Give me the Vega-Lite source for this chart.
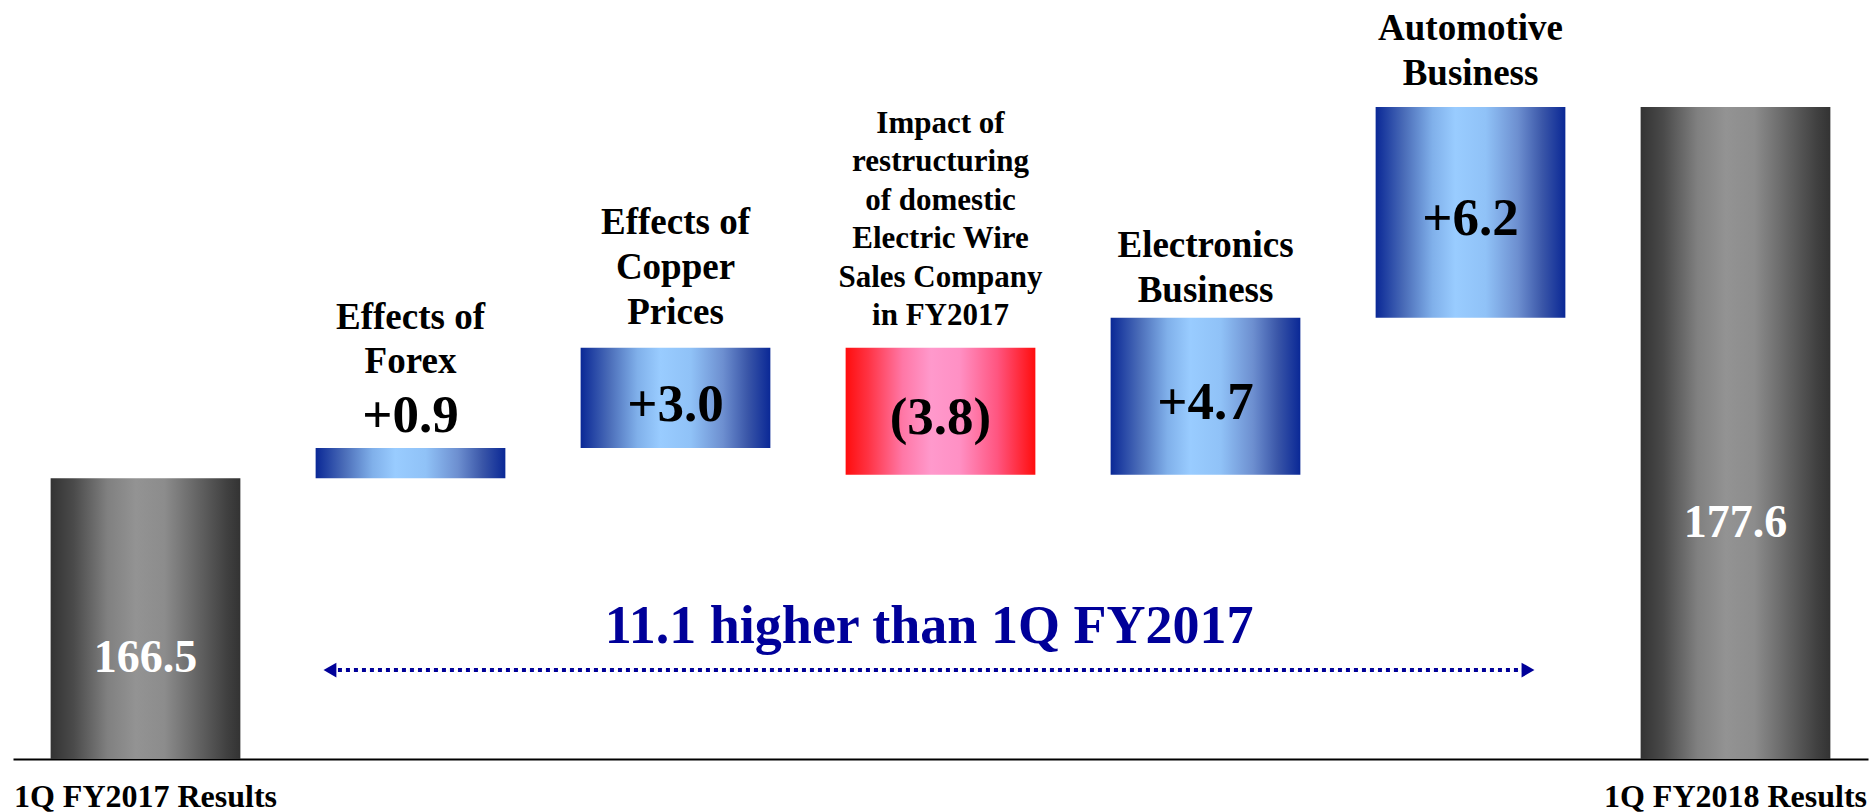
{
  "$schema": "https://vega.github.io/schema/vega-lite/v6.json",
  "width": 1855,
  "height": 759,
  "autosize": {"type": "none"},
  "padding": {"left": 13, "top": 0, "right": 5, "bottom": 53},
  "background": "white",
  "config": {
    "view": {"stroke": null},
    "text": {"font": "Liberation Serif", "fontWeight": "bold", "color": "#000000"}
  },
  "datasets": {
    "steps": [
      {"cat": "1Q FY2017 Results", "kind": "result", "start": 158.1, "end": 166.5, "label": "166.5", "name": ""},
      {"cat": "Effects of Forex", "kind": "up", "start": 166.5, "end": 167.4, "label": "+0.9", "name": ["Effects of", "Forex"]},
      {"cat": "Effects of Copper Prices", "kind": "up", "start": 167.4, "end": 170.4, "label": "+3.0", "name": ["Effects of", "Copper", "Prices"]},
      {"cat": "Impact of restructuring of domestic Electric Wire Sales Company in FY2017", "kind": "down", "start": 170.4, "end": 166.6, "label": "(3.8)", "name": ["Impact of", "restructuring", "of domestic", "Electric Wire", "Sales Company", "in FY2017"]},
      {"cat": "Electronics Business", "kind": "up", "start": 166.6, "end": 171.3, "label": "+4.7", "name": ["Electronics", "Business"]},
      {"cat": "Automotive Business", "kind": "up", "start": 171.3, "end": 177.6, "label": "+6.2", "name": ["Automotive", "Business"]},
      {"cat": "1Q FY2018 Results", "kind": "result", "start": 158.1, "end": 177.6, "label": "177.6", "name": ""}
    ],
    "note": [
      {"from": 0.696, "to": 5.217, "at": 160.76, "text": "11.1 higher than 1Q FY2017", "textX": 2.957, "textY": 161.57}
    ],
    "heads": [
      {"pos": 0.696, "at": 160.76, "dir": "left"},
      {"pos": 5.217, "at": 160.76, "dir": "right"}
    ]
  },
  "resolve": {"scale": {"x": "independent"}, "axis": {"x": "independent"}},
  "layer": [
    {
      "data": {"name": "steps"},
      "encoding": {
        "x": {
          "field": "cat",
          "type": "nominal",
          "sort": null,
          "scale": {
            "domain": ["1Q FY2017 Results", "Effects of Forex", "Effects of Copper Prices", "Impact of restructuring of domestic Electric Wire Sales Company in FY2017", "Electronics Business", "Automotive Business", "1Q FY2018 Results"],
            "paddingInner": 0.284,
            "paddingOuter": 0.142
          },
          "axis": {
            "title": null,
            "ticks": false,
            "tickSize": 0,
            "grid": false,
            "domain": true,
            "domainColor": "#000000",
            "domainWidth": 2,
            "labelExpr": "indexof(datum.label, 'Results') >= 0 ? datum.label : ''",
            "labelFont": "Liberation Serif",
            "labelFontWeight": "bold",
            "labelFontSize": 32,
            "labelColor": "#000000",
            "labelPadding": 22,
            "labelAngle": 0,
            "labelLimit": 500,
            "labelOverlap": false
          }
        }
      },
      "layer": [
        {
          "mark": {"type": "bar"},
          "encoding": {
            "y": {"field": "end", "type": "quantitative", "scale": {"domain": [158.1, 180.8], "nice": false, "zero": false}, "axis": null},
            "y2": {"field": "start"},
            "fill": {
              "condition": [
                {"test": "datum.kind === 'result'", "value": {"gradient": "linear", "x1": 0, "x2": 1, "y1": 0, "y2": 0, "stops": [
                  {"offset": 0, "color": "#333333"}, {"offset": 0.12, "color": "#4a4a4a"}, {"offset": 0.3, "color": "#808080"},
                  {"offset": 0.45, "color": "#939393"}, {"offset": 0.6, "color": "#8c8c8c"}, {"offset": 0.8, "color": "#5e5e5e"},
                  {"offset": 0.93, "color": "#404040"}, {"offset": 1, "color": "#333333"}]}},
                {"test": "datum.kind === 'down'", "value": {"gradient": "linear", "x1": 0, "x2": 1, "y1": 0, "y2": 0, "stops": [
                  {"offset": 0, "color": "#ff0d0d"}, {"offset": 0.12, "color": "#ff3344"}, {"offset": 0.3, "color": "#ff77a6"},
                  {"offset": 0.45, "color": "#ff99cc"}, {"offset": 0.6, "color": "#ff90c4"}, {"offset": 0.8, "color": "#ff5580"},
                  {"offset": 1, "color": "#ff0d0d"}]}}
              ],
              "value": {"gradient": "linear", "x1": 0, "x2": 1, "y1": 0, "y2": 0, "stops": [
                {"offset": 0, "color": "#0a2896"}, {"offset": 0.15, "color": "#4a6cb8"}, {"offset": 0.3, "color": "#80b0ea"},
                {"offset": 0.42, "color": "#99ccff"}, {"offset": 0.58, "color": "#90c2f7"}, {"offset": 0.75, "color": "#6d8fd0"},
                {"offset": 0.88, "color": "#3a56a8"}, {"offset": 1, "color": "#0a2896"}]}
            }
          }
        },
        {
          "transform": [
            {"filter": "datum.kind !== 'result' && datum.cat !== 'Effects of Forex'"},
            {"fold": ["start", "end"], "as": ["edge", "v"]}
          ],
          "mark": {"type": "text", "fontSize": 53, "baseline": "middle", "dy": 7},
          "encoding": {
            "y": {"aggregate": "mean", "field": "v", "type": "quantitative", "scale": {"domain": [158.1, 180.8], "nice": false, "zero": false}, "axis": null},
            "text": {"field": "label", "type": "nominal"}
          }
        },
        {
          "transform": [{"filter": "datum.cat === 'Effects of Forex'"}],
          "mark": {"type": "text", "fontSize": 53, "baseline": "alphabetic", "dy": -16},
          "encoding": {
            "y": {"field": "end", "type": "quantitative", "scale": {"domain": [158.1, 180.8], "nice": false, "zero": false}, "axis": null},
            "text": {"field": "label", "type": "nominal"}
          }
        },
        {
          "transform": [
            {"filter": "datum.kind === 'result'"},
            {"fold": ["start", "end"], "as": ["edge", "v"]},
            {"quantile": "v", "probs": [0.365], "groupby": ["cat", "label"], "as": ["prob", "q"]}
          ],
          "mark": {"type": "text", "fontSize": 46, "baseline": "middle", "dy": 2, "color": "#ffffff"},
          "encoding": {
            "y": {"field": "q", "type": "quantitative", "scale": {"domain": [158.1, 180.8], "nice": false, "zero": false}, "axis": null},
            "text": {"field": "label", "type": "nominal"}
          }
        },
        {
          "transform": [{"filter": "datum.cat === 'Effects of Copper Prices'"}],
          "mark": {"type": "text", "fontSize": 37, "lineHeight": 45, "baseline": "alphabetic", "dy": -114},
          "encoding": {
            "y": {"field": "end", "type": "quantitative", "scale": {"domain": [158.1, 180.8], "nice": false, "zero": false}, "axis": null},
            "text": {"field": "name", "type": "nominal"}
          }
        },
        {
          "transform": [{"filter": "datum.cat === 'Electronics Business'"}],
          "mark": {"type": "text", "fontSize": 37, "lineHeight": 45, "baseline": "alphabetic", "dy": -61},
          "encoding": {
            "y": {"field": "end", "type": "quantitative", "scale": {"domain": [158.1, 180.8], "nice": false, "zero": false}, "axis": null},
            "text": {"field": "name", "type": "nominal"}
          }
        },
        {
          "transform": [{"filter": "datum.cat === 'Automotive Business'"}],
          "mark": {"type": "text", "fontSize": 37, "lineHeight": 45, "baseline": "alphabetic", "dy": -67},
          "encoding": {
            "y": {"field": "end", "type": "quantitative", "scale": {"domain": [158.1, 180.8], "nice": false, "zero": false}, "axis": null},
            "text": {"field": "name", "type": "nominal"}
          }
        },
        {
          "transform": [{"filter": "datum.cat === 'Effects of Forex'"}],
          "mark": {"type": "text", "fontSize": 37, "lineHeight": 44, "baseline": "alphabetic", "dy": -119},
          "encoding": {
            "y": {"field": "end", "type": "quantitative", "scale": {"domain": [158.1, 180.8], "nice": false, "zero": false}, "axis": null},
            "text": {"field": "name", "type": "nominal"}
          }
        },
        {
          "transform": [{"filter": "datum.kind === 'down'"}],
          "mark": {"type": "text", "fontSize": 31, "lineHeight": 38.5, "baseline": "alphabetic", "dy": -215},
          "encoding": {
            "y": {"field": "start", "type": "quantitative", "scale": {"domain": [158.1, 180.8], "nice": false, "zero": false}, "axis": null},
            "text": {"field": "name", "type": "nominal"}
          }
        }
      ]
    },
    {
      "data": {"name": "note"},
      "layer": [
        {
          "mark": {"type": "rule", "strokeDash": [4, 4], "strokeWidth": 4, "color": "#000099"},
          "encoding": {
            "x": {"field": "from", "type": "quantitative", "scale": {"domain": [-0.5, 6.5], "nice": false, "zero": false}, "axis": null},
            "x2": {"field": "to"},
            "y": {"field": "at", "type": "quantitative", "scale": {"domain": [158.1, 180.8], "nice": false, "zero": false}, "axis": null}
          }
        },
        {
          "data": {"name": "heads"},
          "mark": {"type": "point", "filled": true, "size": 220, "color": "#000099", "opacity": 1},
          "encoding": {
            "x": {"field": "pos", "type": "quantitative", "scale": {"domain": [-0.5, 6.5], "nice": false, "zero": false}, "axis": null},
            "y": {"field": "at", "type": "quantitative", "scale": {"domain": [158.1, 180.8], "nice": false, "zero": false}, "axis": null},
            "shape": {"field": "dir", "type": "nominal", "scale": {"domain": ["left", "right"], "range": ["triangle-left", "triangle-right"]}, "legend": null}
          }
        },
        {
          "mark": {"type": "text", "fontSize": 54, "color": "#000099", "baseline": "alphabetic"},
          "encoding": {
            "x": {"field": "textX", "type": "quantitative", "scale": {"domain": [-0.5, 6.5], "nice": false, "zero": false}, "axis": null},
            "y": {"field": "textY", "type": "quantitative", "scale": {"domain": [158.1, 180.8], "nice": false, "zero": false}, "axis": null},
            "text": {"field": "text", "type": "nominal"}
          }
        }
      ]
    }
  ]
}
